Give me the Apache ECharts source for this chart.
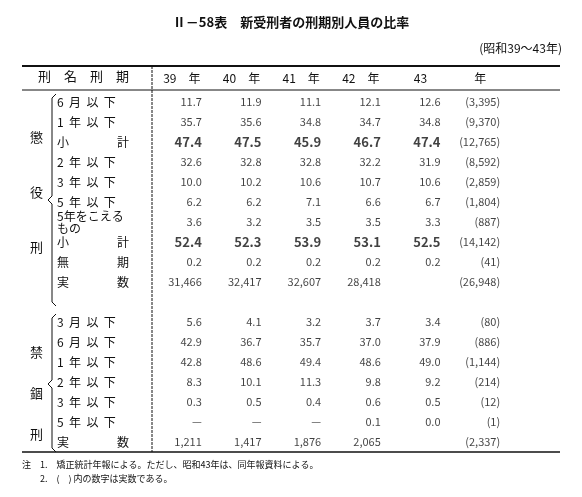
<!DOCTYPE html>
<html><head><meta charset="utf-8">
<script src="https://cdn.jsdelivr.net/npm/echarts@6/dist/echarts.min.js"></script>
<style>html,body{margin:0;background:#fff}#c{width:582px;height:497px}</style>
</head><body><div id="c"></div>
<script>
var rowLabels = ['6  月  以  下', '1  年  以  下', '小　　　　計', '2  年  以  下', '3  年  以  下', '5  年  以  下', '5年をこえる\nもの', '小　　　　計', '無　　　　期', '実　　　　数', '',
  '3  月  以  下', '6  月  以  下', '1  年  以  下', '2  年  以  下', '3  年  以  下', '5  年  以  下', '実　　　　数'];
var colLabels = ['39　年', '40　年', '41　年', '42　年', '43', '年'];
var y39 = ['11.7','35.7','47.4','32.6','10.0','6.2','3.6','52.4','0.2','31,466','','5.6','42.9','42.8','8.3','0.3','—','1,211'];
var y40 = ['11.9','35.6','47.5','32.8','10.2','6.2','3.2','52.3','0.2','32,417','','4.1','36.7','48.6','10.1','0.5','—','1,417'];
var y41 = ['11.1','34.8','45.9','32.8','10.6','7.1','3.5','53.9','0.2','32,607','','3.2','35.7','49.4','11.3','0.4','—','1,876'];
var y42 = ['12.1','34.7','46.7','32.2','10.7','6.6','3.5','53.1','0.2','28,418','','3.7','37.0','48.6','9.8','0.6','0.1','2,065'];
var y43 = ['12.6','34.8','47.4','31.9','10.6','6.7','3.3','52.5','0.2','','','3.4','37.9','49.0','9.2','0.5','0.0',''];
var n43 = ['(3,395)','(9,370)','(12,765)','(8,592)','(2,859)','(1,804)','(887)','(14,142)','(41)','(26,948)','','(80)','(886)','(1,144)','(214)','(12)','(1)','(2,337)'];
var boldRows = [2, 7];
var font = '"Noto Sans CJK JP", sans-serif';

var cols = [y39, y40, y41, y42, y43, n43];
var cells = [];
cols.forEach(function (col, ci) {
  col.forEach(function (v, ri) {
    if (v === '') return;
    var bold = boldRows.indexOf(ri) >= 0 && ci < 5;
    cells.push({ value: [ci, ri, v], label: { fontWeight: bold ? 'bold' : 'normal', fontSize: bold ? 13 : 11 } });
  });
});

var chart = echarts.init(document.getElementById('c'));
chart.setOption({
  backgroundColor: '#fff',
  textStyle: { fontFamily: font, color: '#111' },
  grid: { left: 152, right: 72, top: 92, bottom: 45 },
  xAxis: {
    type: 'category', position: 'top', data: colLabels,
    axisLine: { show: false }, axisTick: { show: false }, splitLine: { show: false },
    axisLabel: { margin: 8, fontSize: 12, color: '#111', fontFamily: font }
  },
  yAxis: {
    type: 'category', inverse: true, data: rowLabels,
    axisLine: { show: false }, axisTick: { show: false },
    axisLabel: { align: 'left', margin: 95, fontSize: 12, lineHeight: 12, color: '#111', fontFamily: font }
  },
  series: [{
    type: 'scatter', symbolSize: 0, data: cells,
    label: { show: true, formatter: function (p) { return p.value[2]; }, position: 'inside', align: 'right', offset: [20, 0], color: '#111', fontFamily: font }
  }],
  graphic: [
    { type: 'text', left: 'center', top: 16, style: { text: 'Ⅱ－58表　新受刑者の刑期別人員の比率', font: 'bold 13px ' + font, fill: '#111' } },
    { type: 'text', right: 20, top: 42, style: { text: '(昭和39〜43年)', font: '12px ' + font, fill: '#111' } },
    { type: 'text', left: 38, top: 70, style: { text: '刑　名　刑　期', font: '13px ' + font, fill: '#111' } },
    { type: 'line', shape: { x1: 22, y1: 66, x2: 560, y2: 66 }, style: { stroke: '#111', lineWidth: 2 } },
    { type: 'line', shape: { x1: 22, y1: 90, x2: 560, y2: 90 }, style: { stroke: '#111', lineWidth: 1 } },
    { type: 'line', shape: { x1: 152, y1: 66, x2: 152, y2: 452 }, style: { stroke: '#111', lineWidth: 1, lineDash: [3, 1] } },
    { type: 'line', shape: { x1: 22, y1: 452, x2: 560, y2: 452 }, style: { stroke: '#111', lineWidth: 1.5 } },
    { type: 'text', left: 30, top: 131, style: { text: '懲', font: '13px ' + font, fill: '#111' } },
    { type: 'text', left: 30, top: 186, style: { text: '役', font: '13px ' + font, fill: '#111' } },
    { type: 'text', left: 30, top: 241, style: { text: '刑', font: '13px ' + font, fill: '#111' } },
    { type: 'text', left: 30, top: 346, style: { text: '禁', font: '13px ' + font, fill: '#111' } },
    { type: 'text', left: 30, top: 387, style: { text: '錮', font: '13px ' + font, fill: '#111' } },
    { type: 'text', left: 30, top: 428, style: { text: '刑', font: '13px ' + font, fill: '#111' } },
    { type: 'polyline', shape: { points: [[56, 94], [52, 98], [52, 196], [48, 200], [52, 204], [52, 302], [56, 306]] }, style: { stroke: '#111', fill: null, lineWidth: 1 } },
    { type: 'polyline', shape: { points: [[56, 314], [52, 318], [52, 380], [48, 384], [52, 388], [52, 448], [56, 452]] }, style: { stroke: '#111', fill: null, lineWidth: 1 } },
    { type: 'text', left: 22, top: 458, style: { text: '注　1.　矯正統計年報による。ただし、昭和43年は、同年報資料による。\n　　2.　(　) 内の数字は実数である。', font: '9px ' + font, fill: '#111', lineHeight: 14 } }
  ]
});
</script>
</body></html>
